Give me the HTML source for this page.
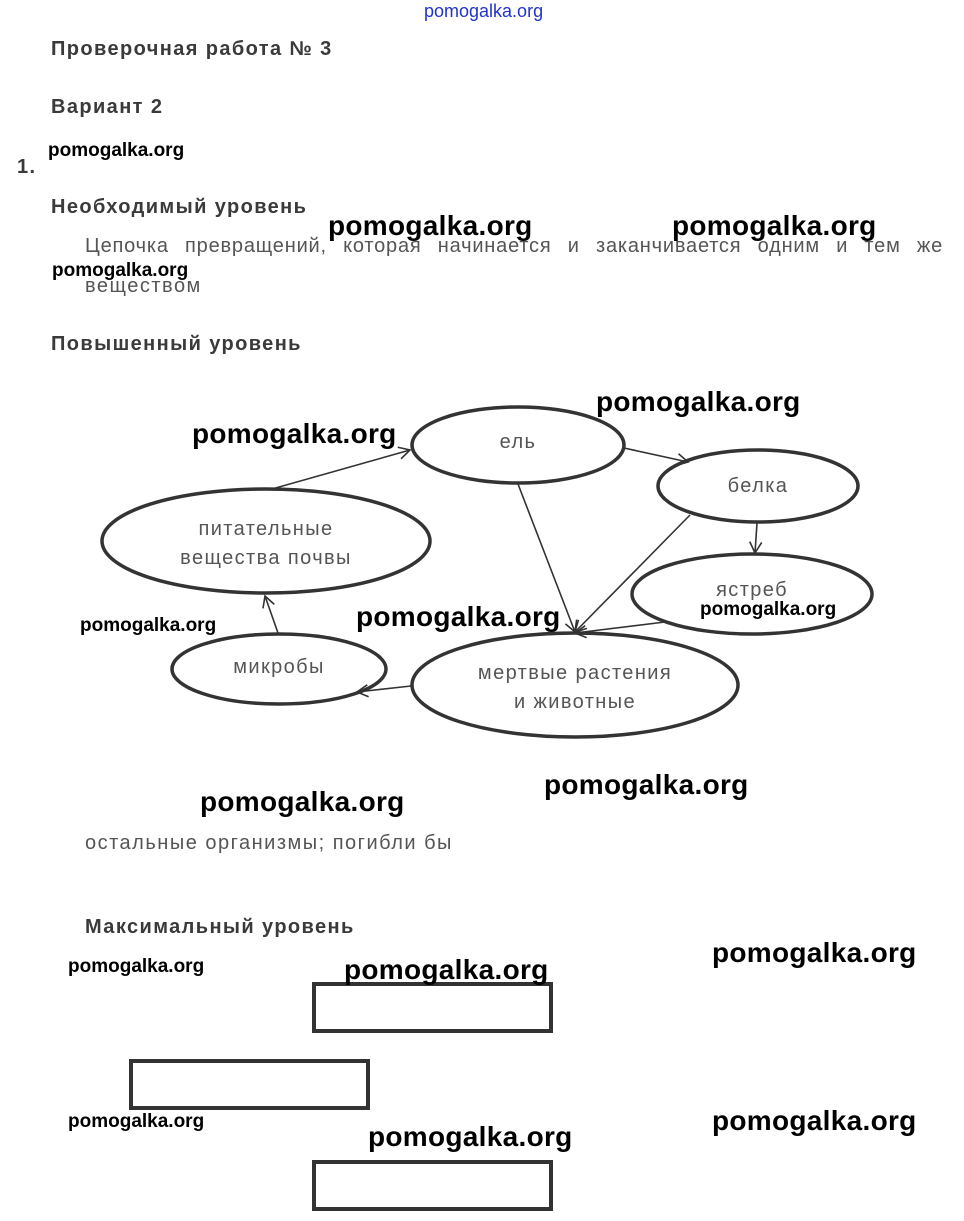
<!DOCTYPE html>
<html><head><meta charset="utf-8">
<style>
body{margin:0;width:964px;height:1221px;background:#fff;position:relative;overflow:hidden;font-family:"Liberation Sans",sans-serif;}
.a{position:absolute;white-space:nowrap;}
.h{font-weight:bold;color:#3a3a3a;font-size:20px;letter-spacing:1.4px;}
.t{color:#555;font-size:20px;letter-spacing:1.5px;}
.w{font-weight:bold;color:#000;font-size:28px;letter-spacing:0.3px;}
.ws{font-weight:bold;color:#000;font-size:19px;}
.box{position:absolute;border:4px solid #333;box-sizing:border-box;width:241px;height:51px;}
</style></head><body>
<div class="a" style="left:424px;top:1px;font-size:18px;color:#2233cc;">pomogalka.org</div>
<div class="a h" style="left:51px;top:38px;">Проверочная работа № 3</div>
<div class="a h" style="left:51px;top:96px;">Вариант 2</div>
<div class="a h" style="left:17px;top:156px;">1.</div>
<div class="a ws" style="left:48px;top:140px;">pomogalka.org</div>
<div class="a h" style="left:51px;top:196px;">Необходимый уровень</div>
<div class="a w" style="left:328px;top:210px;">pomogalka.org</div>
<div class="a w" style="left:672px;top:210px;">pomogalka.org</div>
<div class="a t" style="left:85px;top:235px;width:858px;text-align:justify;text-align-last:justify;letter-spacing:0.8px;">Цепочка превращений, которая начинается и заканчивается одним и тем же</div>
<div class="a ws" style="left:52px;top:260px;">pomogalka.org</div>
<div class="a t" style="left:85px;top:275px;">веществом</div>
<div class="a h" style="left:51px;top:333px;">Повышенный уровень</div>
<div class="a w" style="left:596px;top:386px;">pomogalka.org</div>
<div class="a w" style="left:192px;top:418px;">pomogalka.org</div>
<svg class="a" style="left:0;top:0" width="964" height="800">
<defs><marker id="m" markerWidth="14" markerHeight="14" refX="12" refY="7" orient="auto" markerUnits="userSpaceOnUse"><path d="M1,1 L12,7 L1,13" fill="none" stroke="#333" stroke-width="1.6"/></marker></defs>
<g fill="#fff" stroke="#333" stroke-width="3.5">
<ellipse cx="518" cy="445" rx="106" ry="38"/>
<ellipse cx="758" cy="486" rx="100" ry="36"/>
<ellipse cx="752" cy="594" rx="120" ry="40"/>
<ellipse cx="266" cy="541" rx="164" ry="52"/>
<ellipse cx="279" cy="669" rx="107" ry="35"/>
<ellipse cx="575" cy="685" rx="163" ry="52"/>
</g>
<g stroke="#333" stroke-width="1.6" fill="none" marker-end="url(#m)">
<line x1="272" y1="489" x2="410" y2="450"/>
<line x1="624" y1="448" x2="688" y2="462"/>
<line x1="518" y1="484" x2="575" y2="632"/>
<line x1="690" y1="515" x2="575" y2="632"/>
<line x1="757" y1="523" x2="755" y2="553"/>
<line x1="665" y1="622" x2="575" y2="633"/>
<line x1="411" y1="686" x2="357" y2="692"/>
<line x1="278" y1="633" x2="265" y2="596"/>
</g>
<g font-family="Liberation Sans, sans-serif" font-size="20" fill="#555" text-anchor="middle" letter-spacing="1.4">
<text x="518" y="448">ель</text>
<text x="758" y="492">белка</text>
<text x="752" y="596">ястреб</text>
<text x="266" y="535">питательные</text>
<text x="266" y="564">вещества почвы</text>
<text x="279" y="673">микробы</text>
<text x="575" y="679">мертвые растения</text>
<text x="575" y="708">и животные</text>
</g>
</svg>
<div class="a ws" style="left:700px;top:599px;">pomogalka.org</div>
<div class="a ws" style="left:80px;top:615px;">pomogalka.org</div>
<div class="a w" style="left:356px;top:601px;">pomogalka.org</div>
<div class="a w" style="left:544px;top:769px;">pomogalka.org</div>
<div class="a w" style="left:200px;top:786px;">pomogalka.org</div>
<div class="a t" style="left:85px;top:832px;">остальные организмы; погибли бы</div>
<div class="a h" style="left:85px;top:916px;">Максимальный уровень</div>
<div class="a w" style="left:712px;top:937px;">pomogalka.org</div>
<div class="a ws" style="left:68px;top:956px;">pomogalka.org</div>
<div class="box" style="left:312px;top:982px;"></div>
<div class="a w" style="left:344px;top:954px;">pomogalka.org</div>
<div class="box" style="left:129px;top:1059px;"></div>
<div class="a ws" style="left:68px;top:1111px;">pomogalka.org</div>
<div class="a w" style="left:712px;top:1105px;">pomogalka.org</div>
<div class="a w" style="left:368px;top:1121px;">pomogalka.org</div>
<div class="box" style="left:312px;top:1160px;"></div>
</body></html>
